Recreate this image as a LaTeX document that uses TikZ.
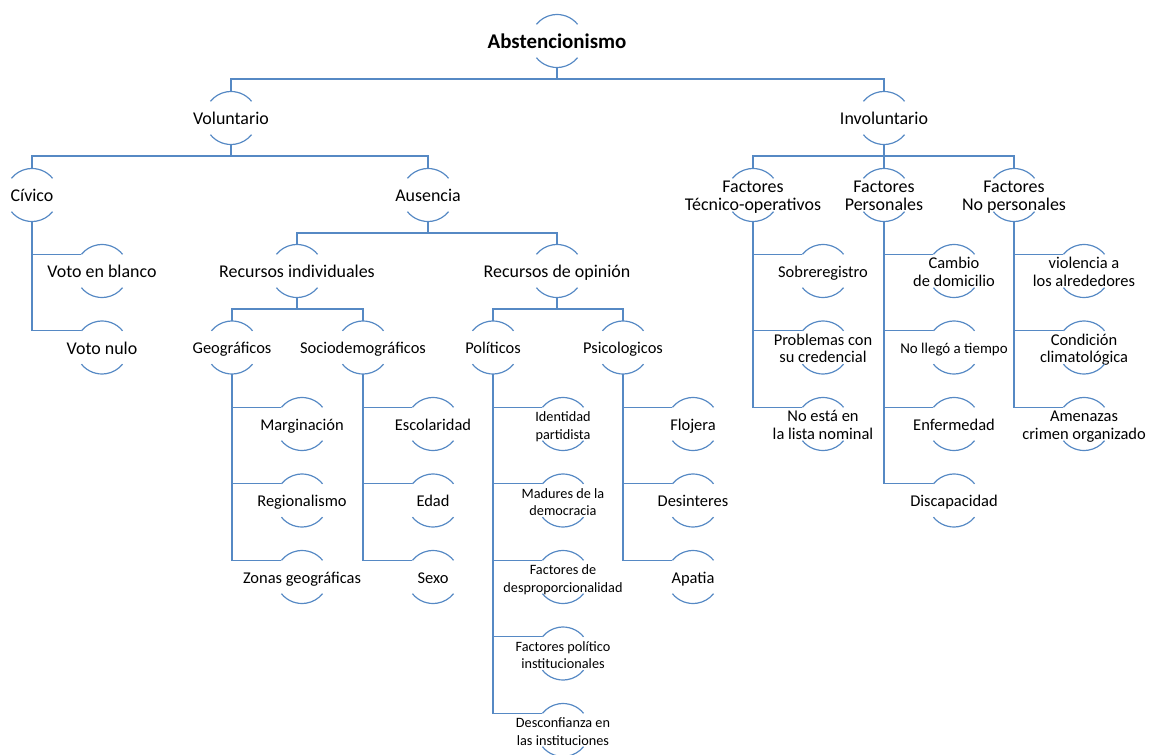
\documentclass[tikz,border=0pt]{standalone}
\usepackage{fontspec}
\setmainfont{Carlito}
\definecolor{linec}{RGB}{86,137,196}
\newcommand{\tx}[1]{\makebox[0pt]{\raisebox{0pt}[\dimexpr\height+6bp\relax][\depth]{\begin{tabular}{@{}c@{}}#1\end{tabular}}}}
\tikzset{
  hnode/.style={circle, minimum size=53bp, inner sep=0pt, outer sep=0pt, text=black,
    font=\fontsize{18}{17.5}\selectfont},
  big/.style={font=\fontsize{21}{21}\selectfont\bfseries},
  mid/.style={font=\fontsize{16.5}{17.5}\selectfont},
  sml/.style={font=\fontsize{15}{17.5}\selectfont},
  tiny/.style={font=\fontsize{14.3}{17.5}\selectfont},
  conn/.style={draw=linec, line width=1.2bp},
  arcst/.style={draw=linec, line width=1.2bp},
}
\begin{document}
\begin{tikzpicture}[x=1bp,y=1bp]
\useasboundingbox (0,0) rectangle (1149,-755);
% level 0-1
\node[hnode,big] (title) at (557,-41) {\tx{Abstencionismo}};
\node[hnode] (vol) at (231,-118) {\tx{Voluntario}};
\node[hnode] (invol) at (884,-118) {\tx{Involuntario}};
% Voluntario branch
\node[hnode] (civ) at (32,-195) {\tx{Cívico}};
\node[hnode] (aus) at (428,-195) {\tx{Ausencia}};
\node[hnode] (blanco) at (102,-271) {\tx{Voto en blanco}};
\node[hnode] (nulo) at (102,-347.5) {\tx{Voto nulo}};
\node[hnode] (rind) at (297,-271) {\tx{Recursos individuales}};
\node[hnode] (rop) at (557,-271) {\tx{Recursos de opinión}};
\node[hnode,mid] (geo) at (232,-347.5) {\tx{Geográficos}};
\node[hnode,mid] (soc) at (363,-347.5) {\tx{Sociodemográficos}};
\node[hnode,mid] (pol) at (493,-347.5) {\tx{Políticos}};
\node[hnode,mid] (psi) at (623,-347.5) {\tx{Psicologicos}};
\node[hnode,mid] (marg) at (302,-424) {\tx{Marginación}};
\node[hnode,mid] (reg) at (302,-500.5) {\tx{Regionalismo}};
\node[hnode,mid] (zon) at (302,-577) {\tx{Zonas geográficas}};
\node[hnode,mid] (esc) at (433,-424) {\tx{Escolaridad}};
\node[hnode,mid] (edad) at (433,-500.5) {\tx{Edad}};
\node[hnode,mid] (sexo) at (433,-577) {\tx{Sexo}};
\node[hnode,tiny] (ident) at (563,-424) {\tx{Identidad\\partidista}};
\node[hnode,tiny] (mad) at (563,-500.5) {\tx{Madures de la\\democracia}};
\node[hnode,tiny] (fdes) at (563,-577) {\tx{Factores de\\desproporcionalidad}};
\node[hnode,tiny] (fpol) at (563,-653.5) {\tx{Factores político\\institucionales}};
\node[hnode,tiny] (desc) at (563,-730) {\tx{Desconfianza en\\las instituciones}};
\node[hnode,mid] (floj) at (693,-424) {\tx{Flojera}};
\node[hnode,mid] (desi) at (693,-500.5) {\tx{Desinteres}};
\node[hnode,mid] (apa) at (693,-577) {\tx{Apatia}};
% Involuntario branch
\node[hnode] (ftec) at (753,-195) {\tx{Factores\\Técnico-operativos}};
\node[hnode] (fper) at (884,-195) {\tx{Factores\\Personales}};
\node[hnode] (fnop) at (1014,-195) {\tx{Factores\\No personales}};
\node[hnode,mid] (sobre) at (823,-271) {\tx{Sobreregistro}};
\node[hnode,mid] (prob) at (823,-347.5) {\tx{Problemas con\\su credencial}};
\node[hnode,mid] (nolista) at (823,-424) {\tx{No está en\\la lista nominal}};
\node[hnode,mid] (camb) at (954,-271) {\tx{Cambio\\de domicilio}};
\node[hnode,sml] (nollego) at (954,-347.5) {\tx{No llegó a tiempo}};
\node[hnode,mid] (enf) at (954,-424) {\tx{Enfermedad}};
\node[hnode,mid] (disc) at (954,-500.5) {\tx{Discapacidad}};
\node[hnode,mid] (viol) at (1084,-271) {\tx{violencia a\\los alrededores}};
\node[hnode,mid] (cond) at (1084,-347.5) {\tx{Condición\\climatológica}};
\node[hnode,mid] (amen) at (1084,-424) {\tx{Amenazas\\crimen organizado}};
% arcs above and below every node
\foreach \n in {title, vol, invol, civ, aus, blanco, nulo, rind, rop, geo, soc, pol, psi,
                marg, reg, zon, esc, edad, sexo, ident, mad, fdes, fpol, desc, floj, desi, apa,
                ftec, fper, fnop, sobre, prob, nolista, camb, nollego, enf, disc, viol, cond, amen} {
  \draw[arcst] (\n.39) arc[start angle=39, end angle=141, radius=26.5bp];
  \draw[arcst] (\n.219) arc[start angle=219, end angle=321, radius=26.5bp];
}
% bus connectors
\foreach \p/\c in {title/vol, title/invol, vol/civ, vol/aus, aus/rind, aus/rop,
                   rind/geo, rind/soc, rop/pol, rop/psi, invol/ftec, invol/fper, invol/fnop}
  \draw[conn] (\p.south) -- ++(0,-11.5) -| (\c.north);
% leaf connectors
\foreach \p/\c in {civ/blanco, civ/nulo, geo/marg, geo/reg, geo/zon, soc/esc, soc/edad, soc/sexo,
                   pol/ident, pol/mad, pol/fdes, pol/fpol, pol/desc, psi/floj, psi/desi, psi/apa,
                   ftec/sobre, ftec/prob, ftec/nolista, fper/camb, fper/nollego, fper/enf, fper/disc,
                   fnop/viol, fnop/cond, fnop/amen}
  \draw[conn] (\p.south) |- (\c.141);
\end{tikzpicture}
\end{document}
